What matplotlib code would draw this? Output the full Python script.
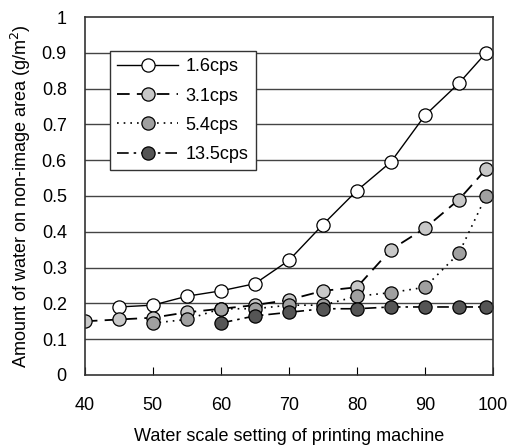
import matplotlib.pyplot as plt

plt.rcParams['font.family'] = ['Liberation Sans', 'DejaVu Sans']

# series
x_16 = [45, 50, 55, 60, 65, 70, 75, 80, 85, 90, 95, 99]
y_16 = [0.19, 0.195, 0.22, 0.235, 0.255, 0.32, 0.42, 0.515, 0.595, 0.725, 0.815, 0.9]

x_31 = [40, 45, 50, 55, 60, 65, 70, 75, 80, 85, 90, 95, 99]
y_31 = [0.15, 0.155, 0.16, 0.175, 0.185, 0.195, 0.21, 0.235, 0.245, 0.35, 0.41, 0.49, 0.575]

x_54 = [50, 55, 60, 65, 70, 75, 80, 85, 90, 95, 99]
y_54 = [0.145, 0.155, 0.185, 0.185, 0.195, 0.195, 0.22, 0.23, 0.245, 0.34, 0.5]

x_135 = [60, 65, 70, 75, 80, 85, 90, 95, 99]
y_135 = [0.145, 0.165, 0.175, 0.185, 0.185, 0.19, 0.19, 0.19, 0.19]

labels = ["1.6cps", "3.1cps", "5.4cps", "13.5cps"]

fig = plt.figure(figsize=(5.14, 4.48), dpi=100)
ax = fig.add_axes([0.165, 0.163, 0.794, 0.799])

for yv in [0.1, 0.2, 0.3, 0.4, 0.5, 0.6, 0.7, 0.8, 0.9]:
    ax.axhline(yv, color="#444444", lw=1.0, zorder=0)

mk = dict(marker="o", markersize=9.5, markeredgecolor="black", markeredgewidth=0.9)
ax.plot(x_16, y_16, color="black", lw=1.0, linestyle="-", markerfacecolor="white",
        label=labels[0], **mk)
ax.plot(x_31, y_31, color="black", lw=1.3, linestyle=(0, (7, 4)), markerfacecolor="#c8c8c8",
        label=labels[1], **mk)
ax.plot(x_54, y_54, color="black", lw=1.2, linestyle=(0, (1, 3)), markerfacecolor="#a0a0a0",
        label=labels[2], **mk)
ax.plot(x_135, y_135, color="black", lw=1.2, linestyle=(0, (7, 3, 1.5, 3)), markerfacecolor="#555555",
        label=labels[3], **mk)

ax.set_xlim(40, 100)
ax.set_ylim(0, 1)
ax.set_xticks([40, 50, 60, 70, 80, 90, 100])
ax.set_yticks([0, 0.1, 0.2, 0.3, 0.4, 0.5, 0.6, 0.7, 0.8, 0.9, 1])
ax.set_yticklabels(["0", "0.1", "0.2", "0.3", "0.4", "0.5", "0.6", "0.7", "0.8", "0.9", "1"])
ax.tick_params(axis="x", direction="in", length=6, labelsize=13, pad=16)
ax.tick_params(axis="y", length=0, labelsize=13, pad=13)
for s in ax.spines.values():
    s.set_color("#333333")
    s.set_linewidth(1.2)

ax.set_xlabel("Water scale setting of printing machine", fontsize=13, labelpad=10)
ax.set_ylabel("Amount of water on non-image area (g/m$^2$)", fontsize=13, labelpad=6)

leg = ax.legend(loc="upper left", bbox_to_anchor=(0.061, 0.905), fontsize=13,
                fancybox=False, edgecolor="#333333", framealpha=1,
                handlelength=3.4, borderpad=0.4, labelspacing=0.68, handletextpad=0.4,
                borderaxespad=0)
leg.get_frame().set_linewidth(1.0)

fig.savefig("out.png", dpi=100)
